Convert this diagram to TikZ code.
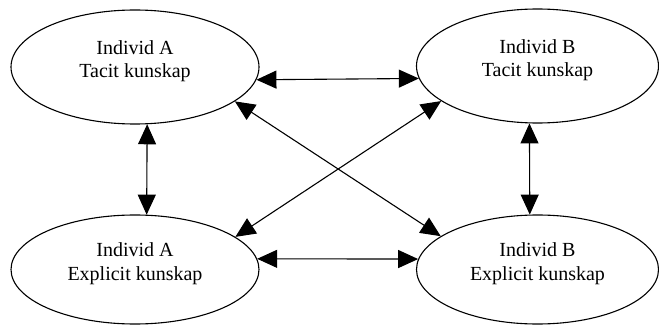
\documentclass[tikz,border=0pt]{standalone}
\usepackage{fontspec}
\setmainfont{Liberation Serif}
\usetikzlibrary{positioning, arrows.meta, shapes.geometric}

\begin{document}
\begin{tikzpicture}[x=1pt, y=-1pt]
    % Stili per le ellissi e le frecce doppie
    \tikzset{
        kunskap/.style={
            ellipse,
            draw=black,
            line width=1.1pt,
            inner sep=0pt,
            minimum width=248pt,
            minimum height=114pt,
            align=center,
            text depth=16pt,
            font=\fontsize{20}{23.5}\selectfont
        },
        dubbelpil/.style={
            {Triangle[length=20pt, width=18pt]}-{Triangle[length=20pt, width=18pt]},
            line width=1.1pt
        }
    }

    \useasboundingbox (0,0) rectangle (659,326);

    % --- Individ A och B, tacit kunskap (ovan) ---
    \node[kunskap] (at) at (135,67) {Individ A\\Tacit kunskap};
    \node[kunskap, minimum width=242pt] (bt) at (537.5,66) {Individ B\\Tacit kunskap};

    % --- Individ A och B, explicit kunskap (nedan) ---
    \node[kunskap, minimum height=109pt] (ae) at (135,269.5) {Individ A\\Explicit kunskap};
    \node[kunskap, minimum height=109pt, minimum width=242pt] (be) at (537.5,269.5) {Individ B\\Explicit kunskap};

    % Frecce orizzontali
    \draw[dubbelpil] (at.-6) -- (bt.186);
    \draw[dubbelpil] (ae.5) -- (be.175);

    % Frecce verticali
    \draw[dubbelpil] (at.-78) -- (ae.78);
    \draw[dubbelpil] (bt.-98) -- (be.98);

    % Frecce diagonali
    \draw[dubbelpil] (at.-19) -- (be.161);
    \draw[dubbelpil] (bt.200) -- (ae.18);
\end{tikzpicture}
\end{document}
